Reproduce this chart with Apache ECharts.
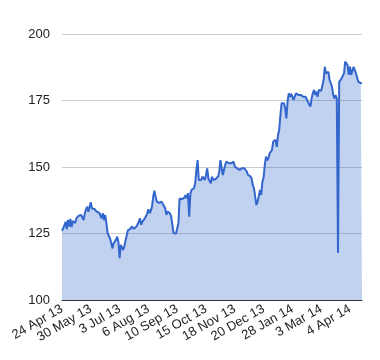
<!DOCTYPE html>
<html>
<head>
<meta charset="utf-8">
<script src="https://cdn.jsdelivr.net/npm/echarts@6/dist/echarts.min.js"></script>
<style>
html,body{margin:0;padding:0;background:#fff;}
#chart{width:380px;height:360px;}
</style>
</head>
<body>
<div id="chart"></div>
<script>
// Tick labels shown every 24 points along the x axis
var tickLabels = ["24 Apr 13","30 May 13","3 Jul 13","6 Aug 13","10 Sep 13","15 Oct 13","18 Nov 13","20 Dec 13","28 Jan 14","3 Mar 14","4 Apr 14"];
var tickStep = 24;

// Daily closing values
var values = [
  126, 125.7, 128, 129.4, 126.6, 130.1, 127.6, 130.5, 127.4, 129.7,
  129, 128.9, 130.7, 131.2, 131.7, 132, 132, 131.7, 130, 132.6,
  134, 135.1, 133.2, 135, 136.7, 134.4, 135, 134.2, 133.5, 133.2,
  132.6, 132.8, 132.6, 130.7, 132.6, 130, 132, 128.9, 125.1, 124.5,
  123.2, 121.5, 119.4, 121.3, 120.7, 122.6, 123.8, 121.9, 115.7, 120.7,
  121, 118.8, 120.3, 122.5, 124.4, 126.3, 126, 126.7, 127.6, 127.3,
  126.8, 126.3, 127.6, 128.5, 129.4, 130.7, 128.3, 129.5, 130, 130.7,
  131.5, 132.6, 134.1, 132.6, 133.5, 135.1, 138.8, 141.1, 138.8, 137,
  137.6, 136.5, 136.1, 137, 136.1, 135.5, 134.5, 132, 133.3, 133,
  132.6, 131.3, 128.2, 125.1, 125.7, 125, 125.5, 128.8, 138.2, 137.6,
  137.9, 137.6, 138.5, 139.4, 138.2, 140.1, 131.3, 140.1, 141.4, 140.7,
  142, 143.9, 148.9, 152.6, 145.1, 145.7, 145.1, 146.4, 146, 145.1,
  147, 149.5, 145.7, 145.7, 143.9, 146.4, 145.1, 145.7, 145.5, 145.1,
  146.4, 148, 152.6, 152.6, 147, 149, 150.8, 152, 151.4, 151.4,
  152, 151.4, 151.8, 152, 150.2, 149.5, 149.5, 149.5, 148.9, 149.5,
  149.5, 148.9, 149.5, 149.5, 148.3, 147, 147, 146.5, 145.7, 143.2,
  142, 141.4, 135.7, 137, 139, 141.4, 139.5, 144.5, 146, 150.8,
  153.9, 152.5, 153.3, 155.1, 154.5, 156.4, 159.5, 158.8, 160.2, 157.6,
  162, 163.9, 169.5, 174, 173.5, 174, 172, 168.3, 174.8, 177.7,
  176.4, 177.5, 177.7, 175.2, 176.5, 177.7, 177.1, 177.1, 177.7, 177.1,
  177.1, 176.4, 176.8, 176.4, 176.4, 174.5, 173.5, 172.7, 175.8, 177.7,
  179, 177.1, 178.3, 176.4, 179, 178.3, 178.6, 179, 182.7, 187.7,
  185.2, 184.6, 185.8, 182.7, 181.5, 180.2, 177.1, 175.8, 177, 175.8,
  117.7, 182, 182.7, 183.3, 183.8, 185.2, 189.6, 190.2, 188.3, 184.6,
  187.7, 184.6, 185.2, 187.7, 188.3, 185.2, 183.5, 182, 181.5, 181.5, 181.5
];

var yMin = 100, yMax = 200, yStep = 25;

var categories = values.map(function (v, i) {
  return (i % tickStep === 0 && tickLabels[i / tickStep]) ? tickLabels[i / tickStep] : '';
});

var chart = echarts.init(document.getElementById('chart'), null, {renderer: 'canvas'});
chart.setOption({
  animation: false,
  backgroundColor: '#ffffff',
  textStyle: {fontFamily: 'Arial, "Liberation Sans", sans-serif'},
  grid: {left: 62, right: 18, top: 34, bottom: 60, containLabel: false},
  xAxis: {
    type: 'category',
    data: categories,
    boundaryGap: false,
    axisLine: {show: true, lineStyle: {color: '#333333', width: 1}},
    axisTick: {show: false},
    splitLine: {show: false},
    axisLabel: {
      interval: tickStep - 1,
      rotate: 30,
      margin: 8,
      color: '#222222',
      fontSize: 13,
      fontFamily: 'Arial, "Liberation Sans", sans-serif'
    }
  },
  yAxis: {
    type: 'value',
    min: yMin,
    max: yMax,
    interval: yStep,
    axisLine: {show: false},
    axisTick: {show: false},
    splitLine: {show: true, lineStyle: {color: '#cccccc', width: 1}},
    axisLabel: {
      margin: 12,
      color: '#222222',
      fontSize: 13,
      fontFamily: 'Arial, "Liberation Sans", sans-serif'
    }
  },
  series: [{
    type: 'line',
    data: values,
    symbol: 'none',
    smooth: false,
    lineStyle: {color: '#3366cc', width: 2},
    itemStyle: {color: '#3366cc'},
    areaStyle: {color: '#3366cc', opacity: 0.3}
  }]
});
</script>
</body>
</html>
